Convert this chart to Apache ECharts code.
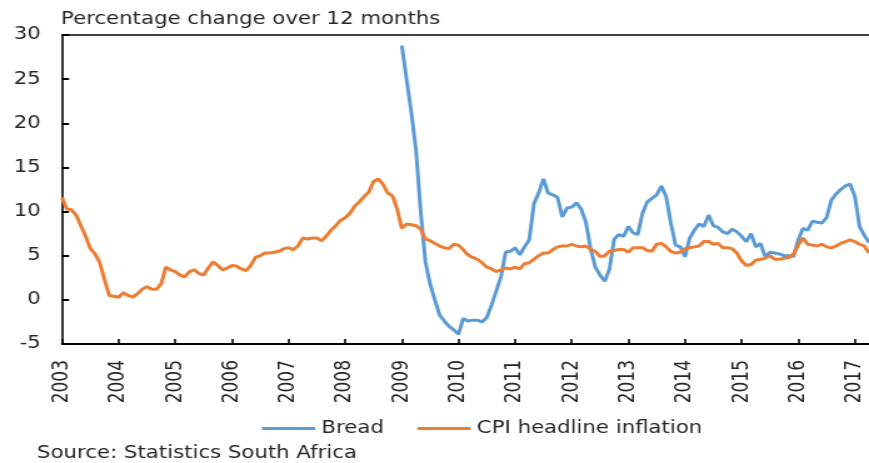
<!DOCTYPE html>
<html>
<head>
<meta charset="utf-8">
<script src="https://cdn.jsdelivr.net/npm/echarts/dist/echarts.min.js"></script>
<style>
html, body { margin: 0; padding: 0; overflow: hidden; background: #ffffff; }
#chart { width: 695px; height: 463px; transform: scaleX(1.2504); transform-origin: 0 0; }
</style>
</head>
<body>
<div id="chart"></div>
<script>
// ---- data ----
const startYear = 2003;
const endYear = 2017;
const endMonth = 4;
const months = [];
for (let y = startYear; y <= endYear; y++) {
  for (let m = 1; m <= 12; m++) {
    if (y === endYear && m > endMonth) break;
    months.push(y + '-' + String(m).padStart(2, '0'));
  }
}

const cpi = [
  11.6, 10.3, 10.2, 9.6, 8.4, 7.2, 5.8, 5.2, 4.2, 2.3, 0.5, 0.4,      // 2003
  0.3, 0.8, 0.5, 0.3, 0.7, 1.2, 1.5, 1.2, 1.2, 1.8, 3.7, 3.4,         // 2004
  3.2, 2.8, 2.6, 3.2, 3.4, 3.0, 2.8, 3.6, 4.3, 3.9, 3.4, 3.6,         // 2005
  3.9, 3.8, 3.5, 3.3, 3.9, 4.8, 5.0, 5.3, 5.3, 5.4, 5.5, 5.8,         // 2006
  5.9, 5.7, 6.1, 7.0, 6.9, 7.0, 7.0, 6.7, 7.2, 7.9, 8.4, 9.0,         // 2007
  9.3, 9.8, 10.6, 11.1, 11.7, 12.2, 13.4, 13.7, 13.1, 12.1, 11.8, 10.3, // 2008
  8.1, 8.6, 8.5, 8.4, 8.0, 6.9, 6.7, 6.4, 6.1, 5.9, 5.8, 6.3,         // 2009
  6.2, 5.7, 5.1, 4.8, 4.6, 4.2, 3.7, 3.5, 3.2, 3.4, 3.6, 3.5,         // 2010
  3.7, 3.5, 4.1, 4.2, 4.6, 5.0, 5.3, 5.3, 5.7, 6.0, 6.1, 6.1,         // 2011
  6.3, 6.1, 6.0, 6.1, 5.7, 5.5, 4.9, 5.0, 5.5, 5.6, 5.7, 5.7,         // 2012
  5.4, 5.9, 5.9, 5.9, 5.6, 5.5, 6.3, 6.4, 6.0, 5.5, 5.3, 5.4,         // 2013
  5.8, 5.9, 6.0, 6.1, 6.6, 6.6, 6.3, 6.4, 5.9, 5.9, 5.8, 5.3,         // 2014
  4.4, 3.9, 4.0, 4.5, 4.6, 4.7, 5.0, 4.6, 4.6, 4.7, 4.8, 5.2,         // 2015
  6.2, 7.0, 6.3, 6.2, 6.1, 6.3, 6.0, 5.9, 6.1, 6.4, 6.6, 6.8,         // 2016
  6.6, 6.3, 6.1, 5.3                                                  // 2017
];

const breadStart = '2009-01';
const bread = [
  28.8, 25.0, 21.3, 17.0, 10.0, 4.3, 1.8, 0.0, -1.7, -2.4, -3.0, -3.4, // 2009
  -3.9, -2.1, -2.4, -2.3, -2.3, -2.5, -2.0, -0.6, 1.0, 2.6, 5.4, 5.5,  // 2010
  5.9, 5.1, 6.0, 6.8, 10.9, 12.1, 13.7, 12.1, 11.9, 11.6, 9.4, 10.4,   // 2011
  10.5, 11.0, 10.3, 8.8, 5.8, 3.7, 2.8, 2.1, 3.5, 6.9, 7.4, 7.2,       // 2012
  8.3, 7.6, 7.4, 9.8, 11.1, 11.5, 11.9, 12.9, 11.7, 8.7, 6.2, 6.0,     // 2013
  4.9, 7.0, 7.9, 8.6, 8.3, 9.6, 8.4, 8.2, 7.7, 7.5, 8.0, 7.7,          // 2014
  7.2, 6.6, 7.5, 6.0, 6.4, 4.9, 5.4, 5.3, 5.2, 5.0, 5.0, 4.9,          // 2015
  6.8, 8.1, 7.9, 8.9, 8.8, 8.7, 9.3, 11.3, 12.0, 12.5, 12.9, 13.1,     // 2016
  11.7, 8.3, 7.3, 6.5                                                  // 2017
];

const seriesNames = ['Bread', 'CPI headline inflation'];
const yMin = -5;
const yMax = 30;
const yStep = 5;
const titleText = 'Percentage change over 12 months';
const sourceText = 'Source: Statistics South Africa';

// ---- chart ----
const FONT = '"DejaVu Sans", Verdana, sans-serif';
const TXT = '#262626';
const breadIdx = months.indexOf(breadStart);
const breadData = months.map((m, i) => (i >= breadIdx && i - breadIdx < bread.length) ? bread[i - breadIdx] : null);

const chart = echarts.init(document.getElementById('chart'), null, { renderer: 'canvas' });
chart.setOption({
  animation: false,
  backgroundColor: '#ffffff',
  textStyle: { fontFamily: FONT },
  title: {
    text: titleText, left: 48.8, top: 11, padding: 0,
    textStyle: { fontSize: 17, fontWeight: 'normal', color: TXT, fontFamily: FONT }
  },
  graphic: [{ type: 'text', left: 29.6, top: 445, style: { text: sourceText, font: '17px ' + FONT, fill: TXT } }],
  legend: {
    data: seriesNames, left: 209.6, top: 420, padding: 0, icon: 'rect',
    itemWidth: 42.4, itemHeight: 3, itemGap: 27,
    textStyle: { fontSize: 17, color: TXT, fontFamily: FONT }
  },
  grid: { left: 49.6, right: 0, top: 35, bottom: 119, containLabel: false },
  xAxis: [{
    type: 'category', data: months, boundaryGap: false,
    axisLine: { show: true, onZero: false, lineStyle: { color: '#000', width: 2 } },
    axisTick: { show: true, inside: true, length: 5, interval: 11, lineStyle: { color: '#000', width: 1.6 } },
    axisLabel: { interval: 11, rotate: 90, margin: 16, fontSize: 17, color: TXT, fontFamily: FONT, formatter: v => v.slice(0, 4) },
    splitLine: { show: false }
  }, {
    type: 'category', data: months, boundaryGap: false, position: 'top',
    axisLine: { show: true, onZero: false, lineStyle: { color: '#000', width: 1.6 } },
    axisTick: { show: false }, axisLabel: { show: false }, splitLine: { show: false }
  }],
  yAxis: {
    type: 'value', min: yMin, max: yMax, interval: yStep,
    axisLine: { show: true, onZero: false, lineStyle: { color: '#000', width: 1.6 } },
    axisTick: { show: true, inside: true, length: 5.6, lineStyle: { color: '#000', width: 2 } },
    axisLabel: { fontSize: 17, color: TXT, margin: 17, fontFamily: FONT },
    splitLine: { show: false }
  },
  series: [{
    name: seriesNames[0], type: 'line', data: breadData, symbol: 'none', showSymbol: false,
    lineStyle: { color: '#5B9BD5', width: 3 }, itemStyle: { color: '#5B9BD5' }
  }, {
    name: seriesNames[1], type: 'line', data: cpi, symbol: 'none', showSymbol: false,
    lineStyle: { color: '#ED7D31', width: 3 }, itemStyle: { color: '#ED7D31' }
  }]
});
// force the display list to be built so axis lines are painted before capture
chart.getZr().storage.getDisplayList(true);
</script>
</body>
</html>
